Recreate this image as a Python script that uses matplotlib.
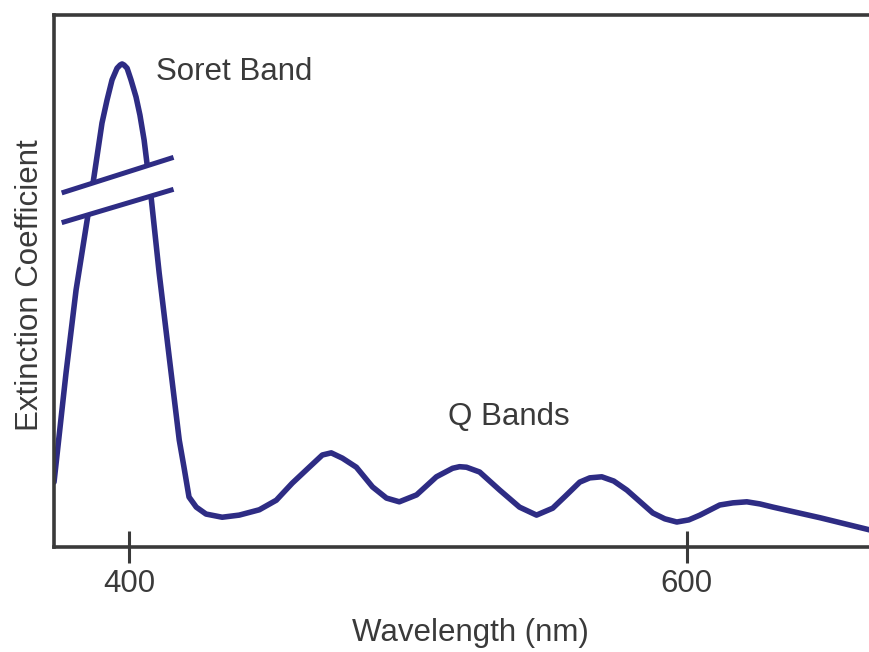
import matplotlib
matplotlib.use("Agg")
import matplotlib.pyplot as plt
import numpy as np

# absorption spectrum (wavelength in nm, extinction in arbitrary units)
wavelength = [373.1, 377.4, 381.0, 384.6, 387.4, 390.3, 392.1, 393.9, 395.7, 396.8,
              397.5, 398.2, 399.3, 400.7, 402.5, 403.9, 405.4, 406.5, 407.9, 410.8,
              414.4, 418.0, 419.7, 421.5, 424.1, 427.6, 433.4, 439.5, 446.7, 452.8,
              458.5, 464.6, 469.3, 472.5, 476.5, 481.5, 487.3, 492.3, 496.9, 503.1,
              510.2, 516.0, 518.5, 521.0, 525.7, 532.9, 540.0, 546.1, 551.9, 556.5,
              561.6, 565.2, 569.5, 573.8, 578.5, 587.8, 592.1, 596.4, 600.7, 604.7,
              611.8, 616.5, 621.5, 626.2, 630.9, 647.8, 665.7]
extinction = [12.2, 32.7, 48.3, 60.2, 69.5, 79.7, 84.0, 87.8, 90.0, 90.6,
              90.8, 90.6, 90.0, 87.8, 84.6, 81.2, 76.5, 71.8, 65.8, 51.5,
              35.7, 20.1, 15.0, 9.4, 7.5, 6.2, 5.6, 6.0, 7.0, 8.8,
              12.0, 15.0, 17.3, 17.7, 16.7, 15.0, 11.3, 9.2, 8.5, 9.8,
              13.2, 14.8, 15.1, 15.0, 14.1, 10.7, 7.5, 6.0, 7.3, 9.6,
              12.2, 13.0, 13.2, 12.4, 10.7, 6.4, 5.3, 4.7, 5.1, 6.0,
              7.9, 8.3, 8.5, 8.1, 7.5, 5.5, 3.2]
xticks = [400, 600]
labels = {"Soret Band": (409.7, 87.8), "Q Bands": (514.2, 22.9)}

line_color = "#2e2c84"
text_color = "#3a3a3a"
plt.rcParams["font.family"] = ["Liberation Sans", "DejaVu Sans"]

fig = plt.figure(figsize=(8.7, 6.52), dpi=100)
ax = fig.add_axes([0.0621, 0.161, 0.938, 0.816])

ax.plot(wavelength, extinction, color=line_color, lw=4.0,
        solid_joinstyle="round", solid_capstyle="round", zorder=2)

# axis break over the Soret peak
x0, x1 = 376.7, 415.1
upper = (66.7, 73.1)
lower = (61.1, 67.1)
ax.fill([x0, x1, x1, x0], [lower[0], lower[1], upper[1], upper[0]],
        color="white", zorder=3, clip_on=False)
ax.plot([x0, x1], upper, color=line_color, lw=3.6, zorder=4)
ax.plot([x0, x1], lower, color=line_color, lw=3.6, zorder=4)

for name, (lx, ly) in labels.items():
    ax.text(lx, ly, name, fontsize=22.5, color=text_color, ha="left", va="baseline")

ax.set_xlim(373.1, 665.7)
ax.set_ylim(0, 100)
ax.set_xticks(xticks)
ax.set_xticklabels([str(t) for t in xticks])
ax.set_yticks([])
ax.tick_params(axis="x", direction="inout", length=23, width=2.2,
               color=text_color, labelsize=22.5, labelcolor=text_color, pad=4)

for side in ["left", "bottom", "top"]:
    ax.spines[side].set_linewidth(2.6)
    ax.spines[side].set_color(text_color)
ax.spines["right"].set_visible(False)

fig.text(470 / 870, 1 - 633 / 652, "Wavelength (nm)", fontsize=22.5,
         color=text_color, ha="center", va="center")
fig.text(30 / 870, 1 - 285 / 652, "Extinction Coefficient", fontsize=22.5,
         color=text_color, ha="center", va="center", rotation=90)

fig.savefig("out.png", dpi=100)
